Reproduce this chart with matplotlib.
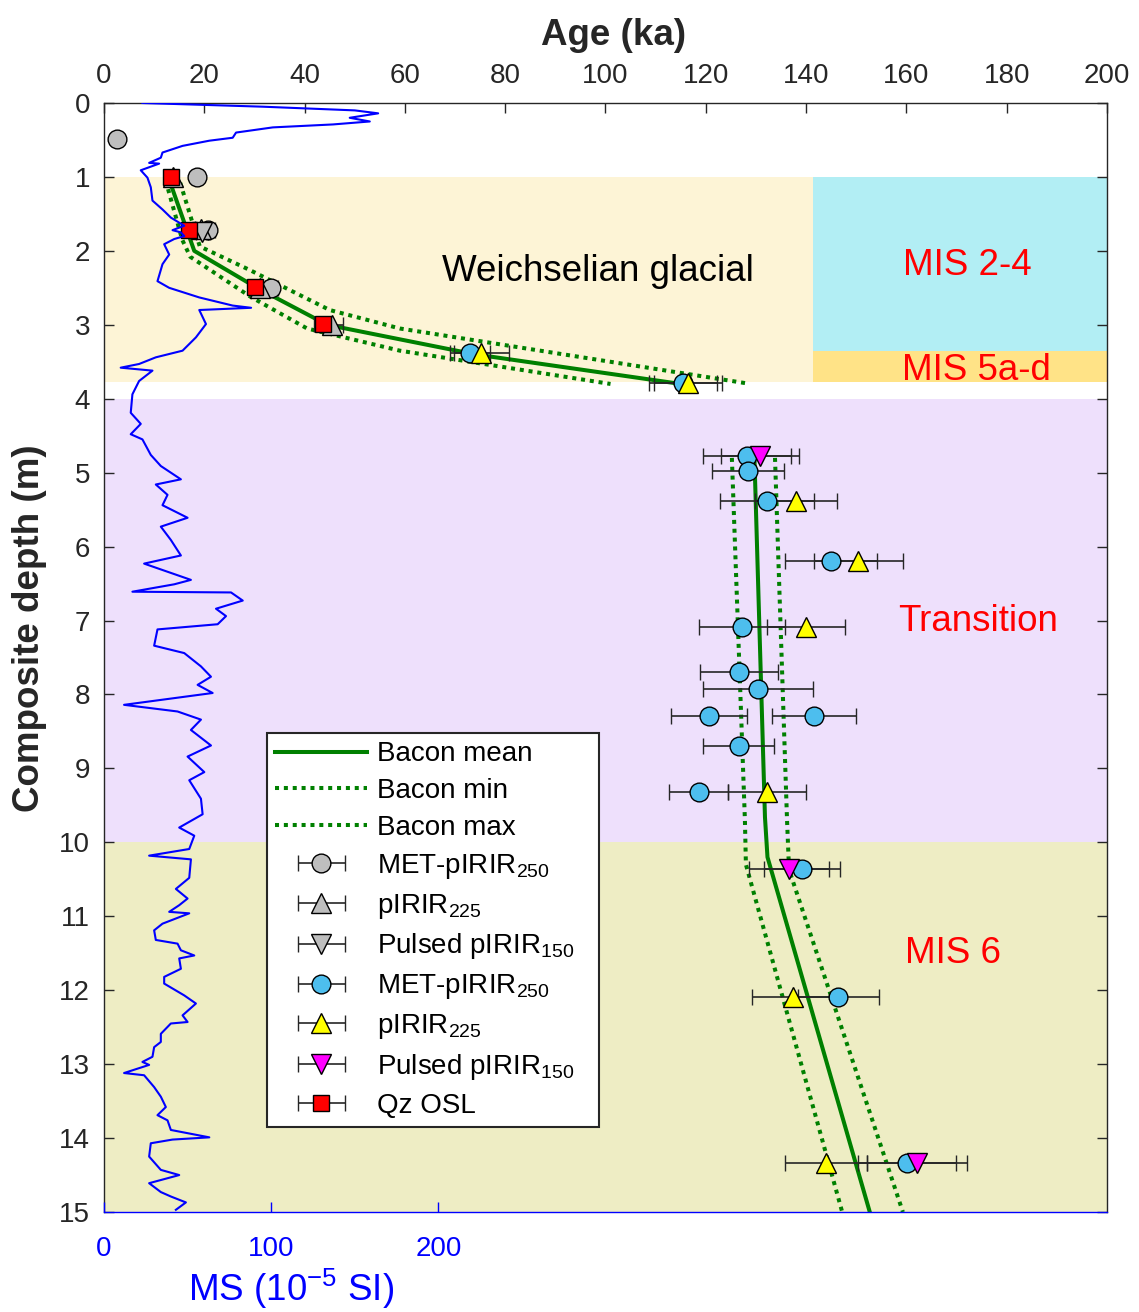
import matplotlib
matplotlib.use("Agg")
import matplotlib.pyplot as plt
from matplotlib.container import ErrorbarContainer
from matplotlib.legend_handler import HandlerErrorbar

plt.rcParams.update({
    "font.family": "Liberation Sans",
    "mathtext.default": "regular",
    "font.size": 20,
})

# ── magnetic susceptibility log (depth m, MS 1e-5 SI) ─────────────────────
ms_depth = [0.00, 0.05, 0.10, 0.14, 0.20, 0.25, 0.29, 0.33, 0.40, 0.47, 0.51, 0.58,
            0.67, 0.74, 0.81, 0.82, 0.91, 1.01, 1.14, 1.32, 1.44, 1.55, 1.66, 1.72,
            1.75, 1.80, 1.84, 1.91, 2.05, 2.18, 2.41, 2.50, 2.63, 2.74, 2.77, 2.80,
            2.99, 3.17, 3.35, 3.44, 3.53, 3.58, 3.62, 3.76, 3.94, 4.19, 4.34, 4.48,
            4.55, 4.76, 4.91, 5.09, 5.16, 5.30, 5.44, 5.61, 5.73, 5.91, 6.12, 6.23,
            6.34, 6.45, 6.51, 6.61, 6.62, 6.73, 6.84, 6.94, 7.05, 7.12, 7.34, 7.44,
            7.62, 7.76, 7.87, 7.98, 8.14, 8.23, 8.34, 8.48, 8.69, 8.84, 9.05, 9.16,
            9.41, 9.62, 9.80, 9.91, 10.09, 10.18, 10.23, 10.48, 10.63, 10.76, 10.85,
            10.94, 10.96, 11.10, 11.19, 11.32, 11.37, 11.46, 11.53, 11.57, 11.71,
            11.82, 11.91, 11.95, 12.07, 12.18, 12.34, 12.43, 12.45, 12.59, 12.70,
            12.77, 12.90, 12.97, 13.01, 13.12, 13.15, 13.31, 13.44, 13.58, 13.69,
            13.76, 13.89, 13.99, 14.02, 14.07, 14.25, 14.43, 14.50, 14.61, 14.73,
            14.79, 14.87, 14.97]
ms_val = [23, 95, 150, 164, 147, 159, 137, 101, 79, 77, 63, 47,
          35, 34, 27, 33, 22, 26, 28, 29, 35, 40, 48, 41,
          46, 48, 42, 36, 39, 35, 32, 39, 57, 77, 88, 57,
          61, 55, 47, 31, 21, 10, 29, 21, 17, 16, 22, 16,
          23, 28, 34, 46, 31, 38, 35, 50, 34, 40, 46, 24,
          38, 52, 42, 17, 76, 83, 67, 73, 68, 32, 30, 48,
          58, 64, 56, 65, 12, 44, 58, 52, 64, 50, 60, 51,
          58, 59, 45, 54, 51, 27, 52, 51, 43, 50, 45,
          39, 51, 35, 30, 31, 44, 46, 54, 45, 46,
          36, 36, 39, 48, 55, 47, 50, 40, 34, 34,
          30, 29, 23, 27, 12, 24, 30, 34, 37, 32,
          38, 40, 63, 41, 28, 27, 34, 45, 27, 34,
          40, 49, 43]

# ── Bacon age-depth model (ka) ────────────────────────────────────────────
up_mean_d = [1.0, 2.0, 2.5, 3.0, 3.4, 3.8]
up_mean_a = [12.8, 18.0, 30.5, 44.5, 74.0, 115.0]
up_min_d  = [1.05, 1.85, 2.08, 2.62, 3.05, 3.35, 3.8]
up_min_a  = [12.3, 15.6, 17.2, 29.2, 40.5, 59.0, 101.0]
up_max_d  = [1.08, 1.94, 2.26, 2.8, 3.05, 3.79]
up_max_a  = [15.2, 19.1, 29.1, 45.0, 59.0, 128.0]

lo_mean_d = [4.8, 9.66, 10.2, 15.0]
lo_mean_a = [129.7, 131.8, 132.3, 152.7]
lo_min_d  = [4.8, 9.7, 10.3, 15.0]
lo_min_a  = [125.2, 127.8, 128.0, 147.2]
lo_max_d  = [4.8, 9.7, 10.37, 15.0]
lo_max_a  = [133.8, 136.2, 136.6, 159.3]

# ── luminescence ages: depth (m), age (ka), 1-sigma (ka) ───────────────────
g_met_d = [0.49, 1.0, 1.72, 2.5]
g_met_a = [2.6, 18.5, 20.8, 33.4]
g_met_e = [0.4, 1.0, 1.3, 1.2]

g_ir_d = [1.0, 1.7, 2.5, 3.0]
g_ir_a = [13.7, 19.3, 31.1, 45.4]
g_ir_e = [0.8, 1.2, 1.2, 2.3]

g_pul_d = [1.75]
g_pul_a = [19.6]
g_pul_e = [1.2]

c_met_d = [3.38, 3.79, 4.78, 4.98, 5.38, 6.19, 7.09, 7.7, 7.93, 8.29, 8.29, 8.7,
           9.32, 10.36, 12.09, 14.34]
c_met_a = [73.0, 115.5, 128.2, 128.4, 132.2, 145.0, 127.2, 126.6, 130.4, 120.6,
           141.6, 126.6, 118.6, 139.2, 146.4, 160.1]
c_met_e = [4.0, 6.8, 8.8, 7.2, 9.3, 9.2, 8.5, 7.8, 11.0, 7.6, 8.4, 7.1, 5.9, 7.6,
           8.1, 9.8]

y_ir_d = [3.38, 3.79, 5.38, 6.19, 7.09, 9.32, 12.09, 14.34]
y_ir_a = [75.2, 116.5, 138.0, 150.4, 140.0, 132.2, 137.4, 144.0]
y_ir_e = [5.5, 6.8, 8.1, 8.9, 7.8, 7.7, 8.2, 8.2]

m_pul_d = [4.78, 10.36, 14.34]
m_pul_a = [130.8, 136.6, 162.1]
m_pul_e = [7.7, 7.9, 9.9]

osl_d = [1.0, 1.72, 2.49, 2.99]
osl_a = [13.4, 17.0, 30.1, 43.7]
osl_e = [0.8, 1.0, 1.2, 1.8]

# ── background units ──────────────────────────────────────────────────────
band_top    = [1.0, 1.0, 3.36, 4.0, 10.0]
band_bottom = [3.78, 3.36, 3.78, 10.0, 15.0]
band_left   = [0, 141.4, 141.4, 0, 0]
band_right  = [141.4, 200, 200, 200, 200]
band_colors = ["#FDF4D6", "#B2EEF4", "#FFE387", "#EEE0FC", "#EEEDC4"]

labels_txt = ["Weichselian glacial", "MIS 2-4", "MIS 5a-d", "Transition", "MIS 6"]
labels_age = [98.5, 172.1, 173.9, 174.3, 169.3]
labels_dep = [2.28, 2.20, 3.62, 7.01, 11.50]
labels_col = ["black", "red", "red", "red", "red"]

# ── style ─────────────────────────────────────────────────────────────────
DARK = "#262626"
GREEN = "#008000"
DOT = (0, (1, 1.2))

fig = plt.figure(figsize=(11.39, 13.12), dpi=100)
ax = fig.add_axes([0.0913, 0.0762, 0.8806, 0.8453])
ax_ms = ax.twiny()

for t, b, l, r, c in zip(band_top, band_bottom, band_left, band_right, band_colors):
    ax.fill_betweenx([t, b], l, r, color=c, lw=0, zorder=0)

ax.plot(up_mean_a, up_mean_d, color=GREEN, lw=2.9, zorder=2)
ax.plot(up_min_a, up_min_d, color=GREEN, lw=2.9, ls=DOT, zorder=2)
ax.plot(up_max_a, up_max_d, color=GREEN, lw=2.9, ls=DOT, zorder=2)
h_mean, = ax.plot(lo_mean_a, lo_mean_d, color=GREEN, lw=2.9, zorder=2)
h_min, = ax.plot(lo_min_a, lo_min_d, color=GREEN, lw=2.9, ls=DOT, zorder=2)
h_max, = ax.plot(lo_max_a, lo_max_d, color=GREEN, lw=2.9, ls=DOT, zorder=2)

ekw = dict(ls="none", mec="black", mew=1.0, ecolor=DARK, elinewidth=1.2,
           capsize=6, capthick=1.2, zorder=3)
series = [
    (g_met_a, g_met_d, g_met_e, "o", 13.5, "#BEBEBE"),
    (g_ir_a, g_ir_d, g_ir_e, "^", 15, "#BEBEBE"),
    (g_pul_a, g_pul_d, g_pul_e, "v", 15, "#BEBEBE"),
    (c_met_a, c_met_d, c_met_e, "o", 13.5, "#4DBEEE"),
    (y_ir_a, y_ir_d, y_ir_e, "^", 15, "#FFFF00"),
    (m_pul_a, m_pul_d, m_pul_e, "v", 15, "#FF00FF"),
    (osl_a, osl_d, osl_e, "s", 11, "#FF0000"),
]
containers = []
for a, d, e, mk, ms, fc in series:
    containers.append(ax.errorbar(a, d, xerr=e, marker=mk, ms=ms, mfc=fc, **ekw))

for txt, a, d, c in zip(labels_txt, labels_age, labels_dep, labels_col):
    ax.text(a, d, txt, color=c, fontsize=26.5, ha="center", va="center", zorder=4)

# MS log on its own (bottom) axis
ax_ms.plot(ms_val, ms_depth, color="#0000FF", lw=1.5, zorder=5)

# axes: age on top, depth left, MS at bottom
ax.set_xlim(0, 200)
ax.set_ylim(15, 0)
ax.set_xticks(range(0, 201, 20))
ax.set_yticks(range(0, 16))
ax.xaxis.tick_top()
ax.xaxis.set_label_position("top")
ax.tick_params(axis="x", direction="in", length=7, width=1, colors=DARK, pad=10,
               top=True, bottom=False, labeltop=True, labelbottom=False, labelsize=20)
ax.tick_params(axis="y", direction="in", length=7, width=1, colors=DARK, pad=10,
               left=True, right=True, labelsize=20)
for s in ["top", "left", "right"]:
    ax.spines[s].set_color(DARK)
    ax.spines[s].set_linewidth(1.0)
ax.spines["bottom"].set_visible(False)
ax.set_xlabel("Age (ka)", fontsize=26.5, fontweight="bold", color=DARK)
ax.xaxis.set_label_coords(0.5085, 1.052)
ax.set_ylabel("Composite depth (m)", fontsize=26.5, fontweight="bold", color=DARK)
ax.yaxis.set_label_coords(-0.057, 0.526)

ax_ms.set_xlim(0, 600)
ax_ms.set_xticks([0, 100, 200])
ax_ms.xaxis.tick_bottom()
ax_ms.xaxis.set_label_position("bottom")
ax_ms.tick_params(axis="x", direction="in", length=7, width=1, colors="#0000FF",
                  pad=17, labelsize=20, top=False, labeltop=False)
for s in ["top", "left", "right"]:
    ax_ms.spines[s].set_visible(False)
ax_ms.spines["bottom"].set_color("#0000FF")
ax_ms.spines["bottom"].set_linewidth(1.0)
ax_ms.set_xlabel("MS (10$^{-5}$ SI)", fontsize=26.5, color="#0000FF")
ax_ms.xaxis.set_label_coords(0.1864, -0.049)

handles = [h_mean, h_min, h_max] + containers
labels = ["Bacon mean", "Bacon min", "Bacon max",
          "MET-pIRIR$_{250}$", "pIRIR$_{225}$", "Pulsed pIRIR$_{150}$   ",
          "MET-pIRIR$_{250}$", "pIRIR$_{225}$", "Pulsed pIRIR$_{150}$   ", "Qz OSL"]
leg = ax_ms.legend(handles, labels, loc="upper left", bbox_to_anchor=(0.1625, 0.432),
                   borderaxespad=0, fancybox=False, framealpha=1, edgecolor=DARK,
                   fontsize=20, handlelength=3.3, handletextpad=0.35,
                   labelspacing=0.39, borderpad=0.3,
                   handler_map={ErrorbarContainer: HandlerErrorbar(xerr_size=0.85)})
leg.get_frame().set_linewidth(1.5)
leg.set_zorder(10)

fig.savefig("out.png", dpi=100)
